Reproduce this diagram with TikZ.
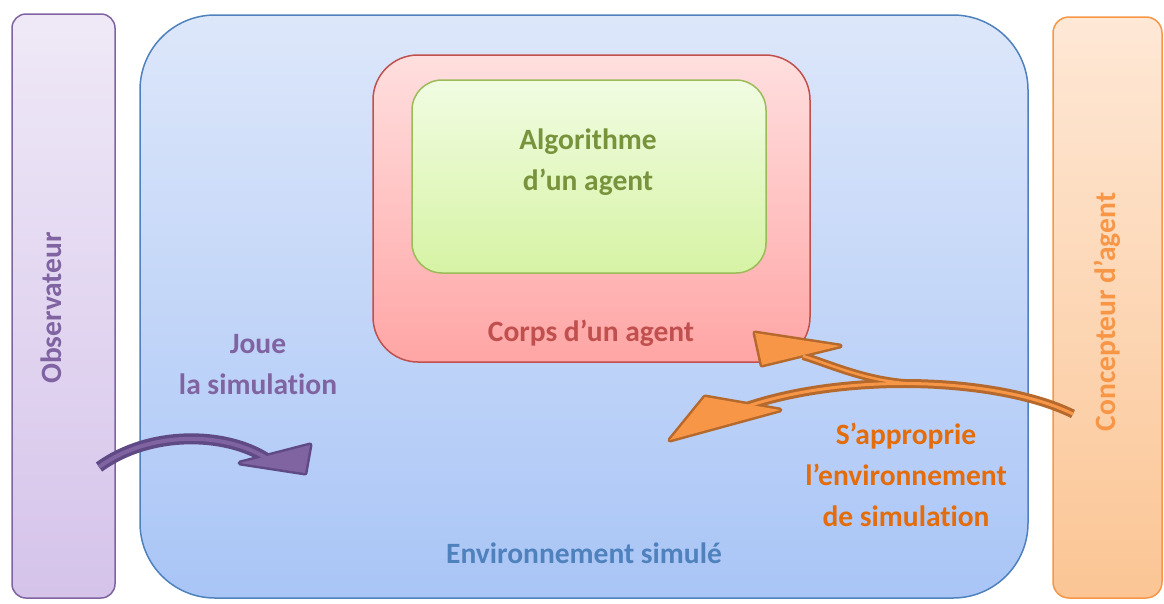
\documentclass[tikz,border=0pt]{standalone}
\usepackage{fontspec}
\setmainfont[Ligatures = {TeX, NoCommon}]{Carlito}
\usetikzlibrary{positioning}

\definecolor{obsline}{HTML}{8064A2}
\definecolor{obstop}{HTML}{EFE9F7}
\definecolor{obsbot}{HTML}{D5C3EA}
\definecolor{envline}{HTML}{4F81BD}
\definecolor{envtop}{HTML}{DDE7FA}
\definecolor{envbot}{HTML}{A9C5F6}
\definecolor{bodyline}{HTML}{C0504D}
\definecolor{bodytop}{HTML}{FFDFDF}
\definecolor{bodybot}{HTML}{FFA5A5}
\definecolor{algoline}{HTML}{9BBB59}
\definecolor{algotop}{HTML}{F1FCE2}
\definecolor{algobot}{HTML}{D6F3A4}
\definecolor{algotext}{HTML}{77933C}
\definecolor{desline}{HTML}{F79646}
\definecolor{destop}{HTML}{FEE8D6}
\definecolor{desbot}{HTML}{FBC594}
\definecolor{destext}{HTML}{E46C0A}
\definecolor{purdark}{HTML}{5F4A86}
\definecolor{purfill}{HTML}{8064A2}
\definecolor{oradark}{HTML}{B5692C}
\definecolor{orafill}{HTML}{F79646}

\tikzset{
    panel/.style = {draw, line width = 1.5pt, inner sep = 0pt},
    lbl/.style = {font = \fontsize{29.5}{41}\selectfont\bfseries, align = center, inner sep = 0pt}
}

\begin{document}
\begin{tikzpicture}[x = 1pt, y = -1pt]
    \useasboundingbox (0, 0) rectangle (1164, 603);

    % boxes
    \node [panel, draw = obsline, top color = obstop, bottom color = obsbot, rounded corners = 14pt,
        minimum width = 103pt, minimum height = 584pt] (obs) at (63.5, 306) {};
    \node [panel, draw = envline, top color = envtop, bottom color = envbot, rounded corners = 75pt,
        minimum width = 888pt, minimum height = 583pt] (env) at (584, 306.5) {};
    \node [panel, draw = desline, top color = destop, bottom color = desbot, rounded corners = 16pt,
        minimum width = 109pt, minimum height = 581pt] (des) at (1107.5, 307.5) {};
    \node [panel, draw = bodyline, top color = bodytop, bottom color = bodybot, rounded corners = 45pt,
        minimum width = 437pt, minimum height = 307pt] (body) at (591.5, 208.5) {};
    \node [panel, draw = algoline, top color = algotop, bottom color = algobot, rounded corners = 30pt,
        minimum width = 354pt, minimum height = 193pt] (algo) at (589, 176.5) {};

    % texts
    \node [lbl, text = algotext] (algotxt) at (588, 162) {Algorithme\\d'un agent};
    \node [lbl, text = bodyline] (bodytxt) at (591, 333) {Corps d'un agent};
    \node [lbl, text = envline] (envtxt) at (584, 553) {Environnement simulé};
    \node [lbl, text = obsline] (jouetxt) at (258, 365) {Joue\\la simulation};
    \node [lbl, text = destext] (apptxt) at (906, 475) {S'approprie\\l'environnement\\de simulation};
    \node [lbl, text = obsline, rotate = 90] (obstxt) at (51, 308) {Observateur};
    \node [lbl, text = desline, rotate = 90] (destxt) at (1107, 312) {Concepteur d'agent};

    %%%%%%%%%%%%%%%%%%%%
    % observateur arrow
    \coordinate (jtail) at (99, 467);
    \coordinate (jneck) at (266, 458);
    \draw [purdark, line width = 11pt] (jtail) .. controls (150, 430) and (225, 432) .. (jneck);
    \filldraw [purdark, line width = 5pt, line join = round] (240, 463) -- (310, 445) -- (305, 473) -- cycle;
    \draw [purfill, line width = 4pt] (jtail) .. controls (150, 430) and (225, 432) .. (jneck);
    \fill [purfill] (240, 463) -- (310, 445) -- (305, 473) -- cycle;

    %%%%%%%%%%%%%%%%%%%%
    % concepteur arrow
    \coordinate (atail) at (1073, 414);
    \coordinate (alow) at (748, 406);
    \coordinate (ajoin) at (921, 384);
    \coordinate (aup) at (803, 356);
    \draw [oradark, line width = 9pt] (atail) .. controls (1000, 378) and (850, 372) .. (alow);
    \draw [oradark, line width = 8pt] (ajoin) .. controls (870, 383) and (835, 366) .. (aup);
    \filldraw [oradark, line width = 5pt, line join = round] (755, 333) -- (840, 346) -- (762, 365) -- cycle;
    \filldraw [oradark, line width = 5pt, line join = round] (705, 397) -- (670, 440) -- (780, 410) -- cycle;
    \draw [orafill, line width = 3pt] (atail) .. controls (1000, 378) and (850, 372) .. (alow);
    \draw [orafill, line width = 2.5pt] (ajoin) .. controls (870, 383) and (835, 366) .. (aup);
    \fill [orafill] (755, 333) -- (840, 346) -- (762, 365) -- cycle;
    \fill [orafill] (705, 397) -- (670, 440) -- (780, 410) -- cycle;
\end{tikzpicture}
\end{document}
